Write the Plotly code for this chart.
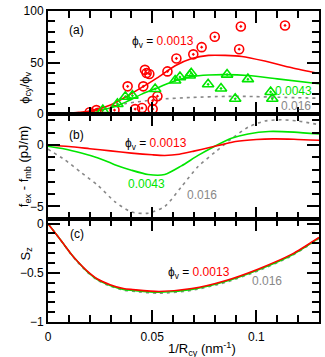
import plotly.graph_objects as go
from plotly.subplots import make_subplots

RED = "#ff0000"
GREEN = "#00e600"
GRAY = "#888888"
FONT = "Liberation Sans, Arial, sans-serif"

# (a) phi_cy / phi_v : measured points
circ_x = [0.020, 0.0232, 0.024, 0.0319, 0.0382, 0.0418, 0.0451, 0.0457, 0.0465, 0.0473,
          0.0486, 0.0502, 0.0502, 0.0525, 0.0573, 0.0616, 0.0697, 0.0737, 0.080, 0.0917,
          0.0925, 0.1137]
circ_y = [2, 4, 1.5, 4, 27, 5, 6, 27, 43, 40, 39, 13, 5, 17.5, 41.5, 54, 58, 65, 75, 63, 85, 86]
tri_x = [0.0263, 0.0333, 0.0371, 0.0405, 0.0514, 0.061, 0.0633, 0.068, 0.0687, 0.0768,
         0.083, 0.0859, 0.0898, 0.0959, 0.1068, 0.1076]
tri_y = [4, 10, 17, 18, 24.5, 32.7, 36, 37.5, 39.7, 29, 25, 38.4, 15, 34, 21.6, 15]

# (a) model curves
a_red_x = [0, 0.01, 0.02, 0.03, 0.0375, 0.045, 0.053, 0.061, 0.069, 0.077, 0.085, 0.093, 0.104, 0.117, 0.13]
a_red_y = [0, 1, 3, 9, 17, 26, 36, 47, 54, 57, 57, 56, 51.5, 45, 39.5]
a_grn_x = [0, 0.01, 0.02, 0.03, 0.0375, 0.045, 0.053, 0.061, 0.069, 0.077, 0.085, 0.096, 0.11, 0.13]
a_grn_y = [0, 0.7, 2.5, 6, 12, 19.5, 26, 32.5, 36.5, 38, 38.4, 37.5, 34.3, 29.5]
a_gry_x = [0, 0.01, 0.02, 0.03, 0.0375, 0.045, 0.053, 0.069, 0.085, 0.095, 0.11, 0.13]
a_gry_y = [0, 0.7, 3, 7, 10.5, 12.5, 14.5, 16.3, 17.3, 17.3, 16.5, 15.5]

# (b) f_ex - f_mb
b_red_x = [0, 0.01, 0.02, 0.03, 0.04, 0.05, 0.056, 0.063, 0.07, 0.077, 0.084, 0.09, 0.1, 0.108, 0.118, 0.13]
b_red_y = [0, -0.12, -0.3, -0.48, -0.66, -0.8, -0.85, -0.75, -0.5, -0.22, 0.05, 0.28, 0.45, 0.5, 0.47, 0.38]
b_grn_x = [0, 0.008, 0.016, 0.024, 0.032, 0.04, 0.048, 0.056, 0.064, 0.072, 0.08, 0.088,
           0.096, 0.106, 0.118, 0.13]
b_grn_y = [-0.1, -0.32, -0.65, -1.05, -1.6, -2.05, -2.4, -2.4, -1.7, -0.85, -0.1, 0.55,
           0.9, 1.1, 1.05, 0.89]
b_gry_x = [0, 0.008, 0.016, 0.024, 0.032, 0.04, 0.048, 0.056, 0.064, 0.072, 0.08, 0.088,
           0.096, 0.104, 0.112, 0.12, 0.13]
b_gry_y = [-0.35, -1.2, -2.25, -3.3, -4.6, -5.45, -5.55, -5.0, -3.4, -1.75, -0.6, 0.5,
           1.45, 1.95, 2.05, 1.95, 1.65]

# (c) S_z
c_x = [0, 0.0044, 0.0076, 0.0108, 0.014, 0.0187, 0.0235, 0.0298, 0.0362, 0.0406, 0.0533,
       0.069, 0.085, 0.101, 0.117, 0.13]
c_red_y = [0, -0.12, -0.21, -0.30, -0.38, -0.48, -0.56, -0.62, -0.66, -0.67, -0.69,
           -0.66, -0.58, -0.46, -0.31, -0.14]
c_grn_y = [0, -0.12, -0.21, -0.30, -0.38, -0.485, -0.565, -0.628, -0.668, -0.678, -0.698,
           -0.668, -0.588, -0.468, -0.318, -0.145]
c_gry_y = [0, -0.12, -0.212, -0.305, -0.387, -0.49, -0.572, -0.635, -0.676, -0.688, -0.708,
           -0.678, -0.598, -0.478, -0.326, -0.15]

fig = make_subplots(rows=3, cols=1, shared_xaxes=True, vertical_spacing=0)

dot = "3px,4px"


def curve(x, y, color, row, dash="solid"):
    fig.add_scatter(x=x, y=y, mode="lines", line=dict(color=color, width=1.6, dash=dash,
                    shape="spline", smoothing=0.7), row=row, col=1)


curve(a_gry_x, a_gry_y, GRAY, 1, dot)
curve(a_grn_x, a_grn_y, GREEN, 1)
curve(a_red_x, a_red_y, RED, 1)
fig.add_scatter(x=circ_x, y=circ_y, mode="markers", row=1, col=1,
                marker=dict(symbol="circle-open-dot", size=9, color=RED, line=dict(width=1.6)))
fig.add_scatter(x=tri_x, y=tri_y, mode="markers", row=1, col=1,
                marker=dict(symbol="triangle-up-open-dot", size=10, color=GREEN, line=dict(width=1.6)))

curve(b_gry_x, b_gry_y, GRAY, 2, dot)
curve(b_grn_x, b_grn_y, GREEN, 2)
curve(b_red_x, b_red_y, RED, 2)

curve(c_x, c_gry_y, GRAY, 3, dot)
curve(c_x, c_grn_y, GREEN, 3)
curve(c_x, c_red_y, RED, 3)

ax = dict(showline=True, linewidth=2, linecolor="black", mirror="allticks", ticks="inside",
          ticklen=12, tickwidth=1.5, tickcolor="black", showgrid=False, zeroline=False,
          ticklabeloverflow="allow",
          tickfont=dict(size=12, color="black", family=FONT))
minor = dict(ticks="inside", ticklen=7, tickwidth=1.5, tickcolor="black")

for r in (1, 2, 3):
    fig.update_xaxes(ax, range=[0, 0.13], tick0=0, dtick=0.05, showticklabels=(r == 3),
                     ticklabelstandoff=3, minor=dict(minor, dtick=0.01), row=r, col=1)

fig.update_yaxes(ax, range=[0, 100], tickvals=[0, 50, 100],
                 minor=dict(minor, dtick=10), domain=[0.668, 1], row=1, col=1)
fig.update_yaxes(ax, range=[-6, 2.5], tickvals=[-5, 0],
                 minor=dict(minor, tickvals=[-6, -4, -3, -2, -1, 1, 2]),
                 domain=[0.332, 0.668], row=2, col=1)
fig.update_yaxes(ax, range=[-1, 0.05], tickvals=[-1, -0.5, 0],
                 minor=dict(minor, dtick=0.1), domain=[0, 0.332], row=3, col=1)


def phi(val):
    return "ϕ<sub>v</sub> = <span style='color:%s'>%s</span>" % (RED, val)


notes = [
    ("x", "y", 0.0138, 82, "(a)", "black"),
    ("x2", "y2", 0.0138, 0.81, "(b)", "black"),
    ("x3", "y3", 0.0138, -0.11, "(c)", "black"),
    ("x", "y", 0.055, 69.5, phi("0.0013"), "black"),
    ("x", "y", 0.118, 23, "0.0043", GREEN),
    ("x", "y", 0.1188, 7.6, "0.016", GRAY),
    ("x2", "y2", 0.0517, 0.05, phi("0.0013"), "black"),
    ("x2", "y2", 0.0471, -3.2, "0.0043", GREEN),
    ("x2", "y2", 0.0738, -4.08, "0.016", GRAY),
    ("x3", "y3", 0.0724, -0.5, phi("0.0013"), "black"),
    ("x3", "y3", 0.105, -0.583, "0.016", GRAY),
]
for xr, yr, x, y, t, c in notes:
    fig.add_annotation(xref=xr, yref=yr, x=x, y=y, text=t, showarrow=False,
                       font=dict(size=12, color=c, family=FONT))

titles = [
    (-0.125, 0.81, "ϕ<sub>cy</sub>/ϕ<sub>v</sub>", -90),
    (-0.125, 0.5, "f<sub>ex</sub> - f<sub>mb</sub> (pJ/m)", -90),
    (-0.118, 0.19, "S<sub>z</sub>", -90),
    (0.567, -0.123, "1/R<sub>cy</sub> (nm<sup>-1</sup>)", 0),
]
for x, y, t, ang in titles:
    fig.add_annotation(xref="paper", yref="paper", x=x, y=y, text=t, textangle=ang,
                       showarrow=False, font=dict(size=13, color="black", family=FONT))

fig.update_layout(width=325, height=357, margin=dict(l=48, r=4, t=6, b=35),
                  paper_bgcolor="white", plot_bgcolor="white", showlegend=False,
                  font=dict(family=FONT, color="black"))

fig.write_html("out.html", config={"displayModeBar": False},
               post_script="document.body.style.margin='0';")
